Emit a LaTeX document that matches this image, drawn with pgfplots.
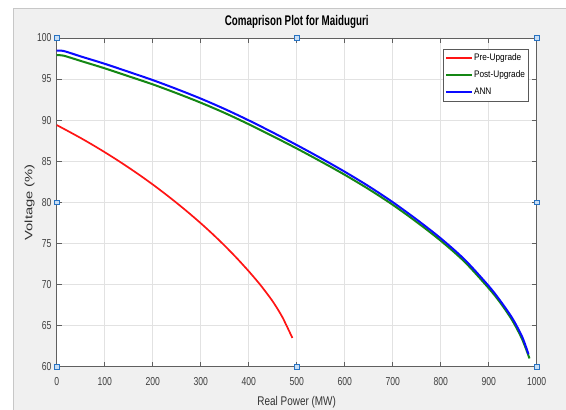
\documentclass[border=0pt]{standalone}
\usepackage{fontspec}
\setmainfont{Liberation Sans}
\newfontfamily\tickfont{Liberation Sans}[FakeStretch=0.75]
\newfontfamily\titlefont{Liberation Sans}[FakeStretch=0.70]
\newfontfamily\xlabfont{Liberation Sans}[FakeStretch=0.79]
\newfontfamily\ylabfont{Liberation Sans}[FakeStretch=1.38]
\newfontfamily\legfont{Liberation Sans}[FakeStretch=0.87]
\usepackage{pgfplots}
\pgfplotsset{compat=1.18}
\definecolor{figgray}{RGB}{240,240,240}
\definecolor{axgray}{RGB}{95,95,95}
\definecolor{gridgray}{RGB}{226,226,226}
\definecolor{mred}{RGB}{255,20,20}
\definecolor{mgreen}{RGB}{20,135,20}
\definecolor{mblue}{RGB}{10,10,255}
\definecolor{hfill}{RGB}{200,222,245}
\definecolor{hedge}{RGB}{40,115,195}
\begin{document}
\begin{tikzpicture}
\path[use as bounding box] (-56.7pt,-43.3pt) rectangle (509.3pt,366.7pt);
\fill[white] (-56.7pt,-43.3pt) rectangle (509.3pt,366.7pt);
\filldraw[fill=figgray, draw=black!22, line width=0.8pt] (-43.7pt,-45pt) rectangle (511pt,358.7pt);
\begin{axis}[
  scale only axis, width=480pt, height=328.8pt,
  xmin=0, xmax=1000, ymin=60, ymax=100,
  xtick={0,100,...,1000}, ytick={60,65,...,100},
  clip=false,
  grid=major, major grid style={gridgray, line width=0.6pt},
  axis line style={axgray, line width=0.7pt},
  tick style={axgray, line width=0.7pt}, tick align=inside, major tick length=5pt,
  axis background/.style={fill=white},
  /pgf/number format/assume math mode=true,
  /pgf/number format/1000 sep={},
  xticklabel style={font=\tickfont\fontsize{11.5}{12}\selectfont, text=black!75, anchor=base, yshift=-19.3pt, inner sep=0pt},
  yticklabel style={font=\tickfont\fontsize{11.5}{12}\selectfont, text=black!75, anchor=east, xshift=-5pt, inner sep=0pt},
  title={Comaprison Plot for Maiduguri},
  title style={font=\titlefont\bfseries\fontsize{14}{14}\selectfont, at={(0.5,1)}, anchor=base, yshift=6.9pt, inner sep=0pt},
  xlabel={Real Power (MW)},
  xlabel style={font=\xlabfont\fontsize{12.6}{13}\selectfont, text=black!80, at={(0.5,0)}, anchor=base, yshift=-39pt, inner sep=0pt},
  ylabel={Voltage (\%)},
  ylabel style={font=\ylabfont\fontsize{10.7}{11}\selectfont, text=black!80, at={(0,0.5)}, anchor=base, yshift=24.2pt, inner sep=0pt},
  legend cell align=left,
  legend image code/.code={\draw[#1] (0pt,0pt) -- (26pt,0pt);},
  legend style={at={(1,1)}, anchor=north east, xshift=-8.4pt, yshift=-11.1pt,
    draw=black!65, fill=white, line width=0.6pt,
    inner xsep=2pt, inner ysep=3.5pt, row sep=5.8pt,
    font=\legfont\fontsize{9.5}{10}\selectfont,
    nodes={inner sep=1pt, text height=7pt, text depth=2pt}},
]
\addplot[mred, line width=1.7pt, smooth, tension=0.4] coordinates {
 (0,89.4) (25,88.62) (50,87.82) (75,86.98) (100,86.10) (125,85.18) (150,84.22)
 (175,83.22) (200,82.17) (225,81.07) (250,79.92) (275,78.72) (300,77.46) (325,76.13)
 (350,74.72) (375,73.22) (400,71.62) (425,69.90) (450,67.95) (470,66.05) (491,63.5)};
\addlegendentry{Pre-Upgrade}
\addplot[mgreen, line width=2pt, smooth, tension=0.5] coordinates {
 (0,97.9) (15,97.83) (50,97.2) (100,96.3) (150,95.33) (200,94.35) (250,93.27)
 (300,92.12) (350,90.87) (400,89.5) (450,88.05) (500,86.55) (550,84.98) (600,83.35)
 (650,81.6) (700,79.7) (750,77.6) (800,75.33) (850,72.75) (900,69.55) (925,67.72)
 (950,65.55) (970,63.3) (985,61.0)};
\addlegendentry{Post-Upgrade}
\addplot[mblue, line width=2pt, smooth, tension=0.5] coordinates {
 (0,98.45) (15,98.4) (50,97.75) (100,96.85) (150,95.87) (200,94.87) (250,93.78)
 (300,92.62) (350,91.35) (400,89.97) (450,88.5) (500,86.97) (550,85.38) (600,83.72)
 (650,81.95) (700,80.02) (750,77.9) (800,75.62) (850,73.02) (900,69.82) (925,67.95)
 (950,65.82) (970,63.6) (983,61.5)};
\addlegendentry{ANN}
\addplot[only marks, mark=square*, mark size=2.2pt, forget plot,
  mark options={fill=hfill, draw=hedge, line width=0.6pt}] coordinates {
 (0,100) (500,100) (1000,100) (0,80) (1000,80) (0,60) (500,60) (1000,60)};
\end{axis}
\end{tikzpicture}
\end{document}
